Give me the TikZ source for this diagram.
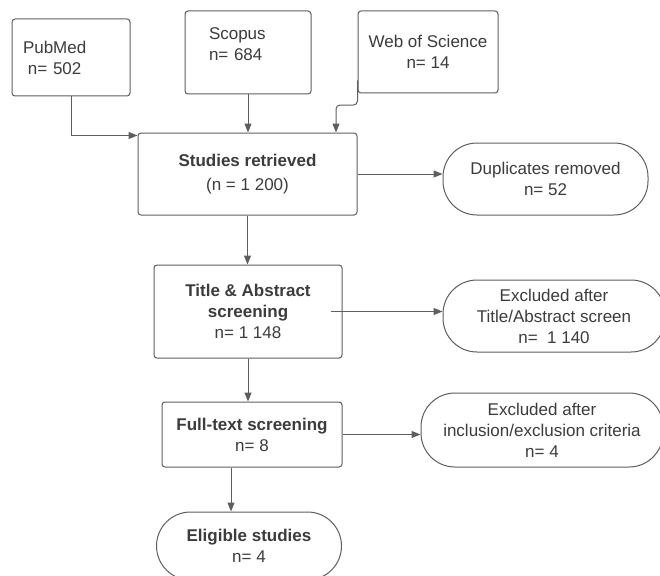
\documentclass[tikz,border=0pt]{standalone}
\usepackage{fontspec}
\setmainfont{Liberation Sans}
\usetikzlibrary{arrows.meta,positioning}
\definecolor{linegray}{HTML}{5E5E5E}
\definecolor{textgray}{HTML}{3C3C3C}

\begin{document}
\begin{tikzpicture}[x=1pt, y=-1pt,
            >={Triangle[length=9pt,width=7pt]},
            every node/.style = {draw=linegray, line width=1pt, text=textgray, align=center,
                    inner sep=2pt, font=\fontsize{17}{21}\selectfont},
            box/.style = {rounded corners=3pt},
            pill/.style = {rounded corners=34pt},
            link/.style = {->, draw=linegray, line width=1pt},
        ]

        \useasboundingbox (0,0) rectangle (660,575);
        \clip (0,0) rectangle (660,575);
        \fill[white] (0,0) rectangle (660,575);

        % sources
        \node[box, minimum width=118pt, minimum height=77pt, align=left,
            text width=96pt, inner xsep=11pt] (pubmed) at (71,57.5) {PubMed\\\hspace*{5pt}n= 502};
        \node[box, minimum width=126pt, minimum height=83pt, align=left,
            text width=78pt, inner xsep=24pt, text depth=38pt] (scopus) at (248,52.5) {Scopus\\n= 684};
        \node[box, minimum width=140pt, minimum height=82pt] (wos) at (428,52) {Web of Science\\n= 14};

        % main column
        \node[box, minimum width=219pt, minimum height=82pt] (studies) at (247.5,174)
            {\textbf{Studies retrieved}\\[3pt](n = 1 200)};
        \node[box, minimum width=188pt, minimum height=93pt] (title) at (248,311.5)
            {\textbf{Title \& Abstract}\\\textbf{screening}\\n= 1 148};
        \node[box, minimum width=180pt, minimum height=65pt] (full) at (252,434.5)
            {\textbf{Full-text screening}\\n= 8};
        \node[pill, minimum width=185pt, minimum height=68pt] (elig) at (249,546)
            {\textbf{Eligible studies}\\n= 4};

        % removed records
        \node[pill, minimum width=205pt, minimum height=72pt] (dup) at (545.5,179)
            {Duplicates removed\\n= 52};
        \node[pill, minimum width=222pt, minimum height=72pt] (excl1) at (554,316)
            {Excluded after\\Title/Abstract screen\\n=~~1 140};
        \node[pill, minimum width=242pt, minimum height=74pt] (excl2) at (542,430)
            {Excluded after\\inclusion/exclusion criteria\\n= 4};

        \coordinate (wosbend) at (336,105);

        \draw[link] (pubmed.south) |- ([yshift=-3pt]studies.north west);
        \draw[link, rounded corners=4pt] ([yshift=13pt]wos.south west) |- (wosbend)
            -- (wosbend |- studies.north);

        \foreach \a/\b in {scopus/studies, studies/title, title/full}
            {
                \draw[link] (\a.south) -- (\a.south |- \b.north);
            }
        \foreach \a/\b in {studies/dup, full/excl2}
            {
                \draw[link] (\a.east) -- (\a.east -| \b.west);
            }
        \draw[link] ([xshift=-12pt]title.east) -- (title.east -| excl1.west);
        \draw[link] ([xshift=-21pt]full.south) -- ([xshift=-21pt]full.south |- elig.north);
    \end{tikzpicture}
\end{document}
